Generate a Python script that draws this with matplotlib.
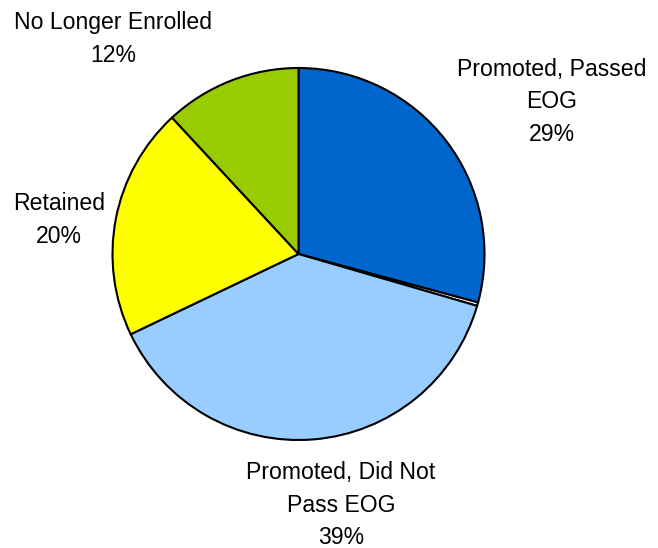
import matplotlib
matplotlib.use("Agg")
import matplotlib.pyplot as plt

categories = ["Promoted, Passed\nEOG", "", "Promoted, Did Not\nPass EOG", "Retained", "No Longer Enrolled"]
values = [29.2, 0.3, 38.4, 20.2, 11.9]
pct_labels = ["29%", "", "39%", "20%", "12%"]
colors = ["#0066CC", "#FFFFFF", "#99CCFF", "#FFFF00", "#99CC00"]

W, H = 658, 548
fig = plt.figure(figsize=(W / 100, H / 100), dpi=100)
fig.patch.set_facecolor("white")

cx, cy, r = 298.5, 254, 186
ax = fig.add_axes([(cx - r) / W, 1 - (cy + r) / H, 2 * r / W, 2 * r / H])
ax.pie(values, colors=colors, startangle=90, counterclock=False,
       wedgeprops=dict(edgecolor="black", linewidth=1.5))
ax.set_xlim(-1, 1)
ax.set_ylim(-1, 1)
ax.set_aspect("equal")
ax.axis("off")

# label centres in pixel coordinates
label_pos = [(552, 102), None, (341, 505), (59, 220), (113.5, 39)]
for cat, pct, pos in zip(categories, pct_labels, label_pos):
    if pos is None:
        continue
    fig.text(pos[0] / W, 1 - pos[1] / H, cat + "\n" + pct, ha="center", va="center",
             fontsize=16.6, family="Liberation Sans", linespacing=1.52, multialignment="center")

fig.savefig("out.png", dpi=100)
